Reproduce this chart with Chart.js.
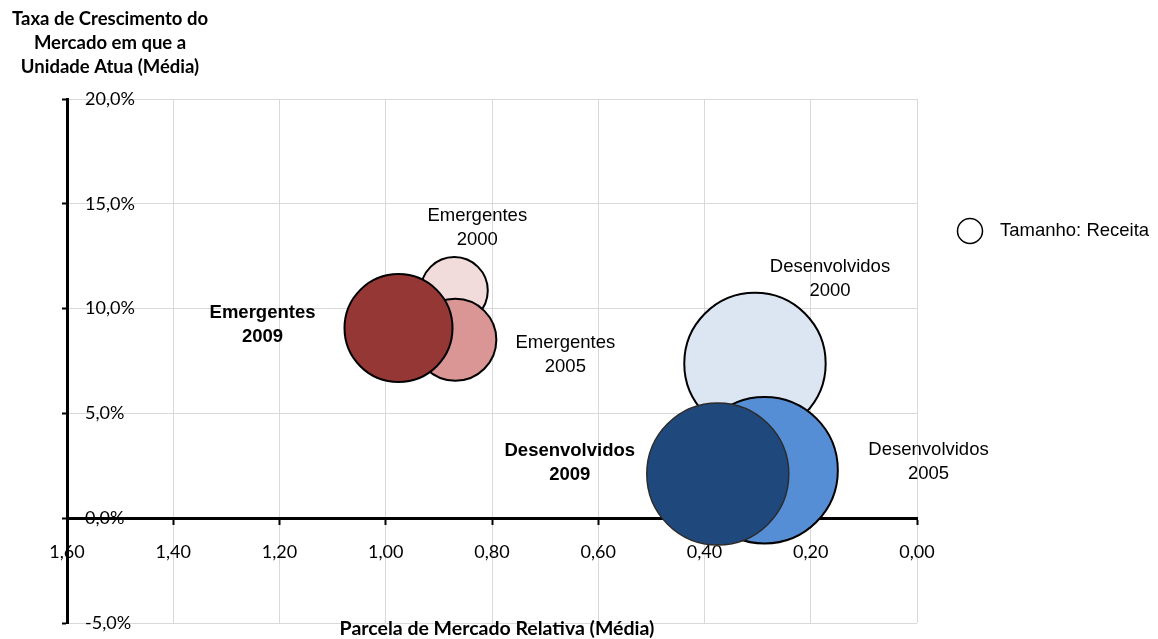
<!DOCTYPE html>
<html>
<head>
<meta charset="utf-8">
<script src="https://cdn.jsdelivr.net/npm/chart.js@4.4.1/dist/chart.umd.min.js"></script>
<style>
  html, body { margin: 0; padding: 0; background: #ffffff; }
  canvas { display: block; }
</style>
</head>
<body>
<canvas id="chart" width="1158" height="639"></canvas>
<script>
// ---- Data ----
const years = ['2000', '2005', '2009'];
const groups = ['Emergentes', 'Desenvolvidos'];

// Relative market share (x), market growth in % (y), bubble size (revenue)
const emergentesShare = [0.871, 0.869, 0.976];
const emergentesGrowth = [10.86, 8.51, 9.07];
const emergentesRevenue = [33.5, 41, 54];

const desenvolvidosShare = [0.305, 0.287, 0.375];
const desenvolvidosGrowth = [7.38, 2.29, 2.11];
const desenvolvidosRevenue = [70.7, 73.3, 71];

const xTickValues = [1.6, 1.4, 1.2, 1.0, 0.8, 0.6, 0.4, 0.2, 0.0];
const yTickValues = [-5, 0, 5, 10, 15, 20];

const yTitleLines = ['Taxa de Crescimento do', 'Mercado em que a', 'Unidade Atua (Média)'];
const xTitle = 'Parcela de Mercado Relativa (Média)';
const legendText = 'Tamanho: Receita';

// ---- Styling ----
const ARIAL = '"Liberation Sans", Arial, sans-serif';
const CALIBRI = 'Lato, "Open Sans", sans-serif';
const emergentesColors = ['#F2DCDB', '#DA9694', '#953735'];
const desenvolvidosColors = ['#DCE6F2', '#558ED5', '#1F497D'];

function points(xs, ys, rs) {
  return xs.map((x, i) => ({ x: x, y: ys[i], r: rs[i] }));
}

// Where each bubble's caption sits, relative to the bubble centre
const captionOffsets = {
  Emergentes: [[23, -63], [110, 15], [-136, -3]],
  Desenvolvidos: [[75, -85], [164, -8], [-148, -11]]
};

const captionPlugin = {
  id: 'captions',
  afterDatasetsDraw(chart) {
    const ctx = chart.ctx;
    ctx.save();
    ctx.fillStyle = '#000';
    ctx.textAlign = 'center';
    ctx.textBaseline = 'middle';
    chart.data.datasets.forEach((ds, di) => {
      const meta = chart.getDatasetMeta(di);
      meta.data.forEach((el, i) => {
        const off = captionOffsets[ds.label][i];
        const bold = i === years.length - 1;
        ctx.font = (bold ? 'bold ' : '') + '18.5px ' + ARIAL;
        const cx = el.x + off[0];
        const cy = el.y + off[1];
        ctx.fillText(ds.label, cx, cy - 12);
        ctx.fillText(years[i], cx, cy + 12);
      });
    });
    ctx.restore();
  }
};

const decorPlugin = {
  id: 'decor',
  afterDraw(chart) {
    const ctx = chart.ctx;
    const area = chart.chartArea;
    ctx.save();
    ctx.fillStyle = '#000';
    ctx.textAlign = 'center';
    ctx.textBaseline = 'middle';
    // y axis title, horizontal above the axis
    ctx.font = 'bold 18.5px ' + CALIBRI;
    yTitleLines.forEach((line, i) => {
      ctx.fillText(line, area.left + 43, 19 + i * 24);
    });
    // x axis title under the plot
    ctx.font = 'bold 19.5px ' + CALIBRI;
    ctx.fillText(xTitle, 497, area.bottom + 6);

    // size legend
    const lx = area.right + 53, ly = 231;
    ctx.beginPath();
    ctx.arc(lx, ly, 12.5, 0, Math.PI * 2);
    ctx.fillStyle = '#fff';
    ctx.fill();
    ctx.lineWidth = 1.5;
    ctx.strokeStyle = '#000';
    ctx.stroke();
    ctx.fillStyle = '#000';
    ctx.textAlign = 'left';
    ctx.font = '18.5px ' + ARIAL;
    ctx.fillText(legendText, lx + 30, ly);
    ctx.restore();
  }
};

const fmtComma = (v, d) => v.toFixed(d).replace('.', ',');

new Chart(document.getElementById('chart'), {
  type: 'bubble',
  data: {
    datasets: [
      {
        label: groups[0],
        data: points(emergentesShare, emergentesGrowth, emergentesRevenue),
        backgroundColor: emergentesColors,
        borderColor: ['#000', '#000', '#000'],
        borderWidth: [2, 2, 2]
      },
      {
        label: groups[1],
        data: points(desenvolvidosShare, desenvolvidosGrowth, desenvolvidosRevenue),
        backgroundColor: desenvolvidosColors,
        borderColor: ['#000', '#000', '#2b2b2b'],
        borderWidth: [2, 2, 1.5]
      }
    ]
  },
  options: {
    responsive: false,
    animation: false,
    devicePixelRatio: 1,
    layout: { autoPadding: false, padding: { left: 62, top: 99, right: 241, bottom: 16 } },
    plugins: {
      legend: { display: false },
      tooltip: { enabled: false }
    },
    elements: { point: { hoverRadius: 0 } },
    scales: {
      x: {
        type: 'linear',
        reverse: true,
        min: 0,
        max: 1.6,
        position: { y: 0 },
        border: { color: '#000', width: 3 },
        grid: { color: '#d9d9d9', lineWidth: 1, tickLength: 5, tickColor: '#000', tickWidth: 2 },
        afterBuildTicks: (scale) => { scale.ticks = xTickValues.map(v => ({ value: v })); },
        afterFit: (scale) => { scale.height = 0; },
        ticks: {
          color: '#000',
          font: { family: CALIBRI, size: 18 },
          padding: 18,
          maxRotation: 0,
          callback: (v) => fmtComma(v, 2)
        }
      },
      y: {
        type: 'linear',
        min: -5,
        max: 20,
        position: 'left',
        border: { color: '#000', width: 3 },
        grid: { color: '#d9d9d9', lineWidth: 1, tickLength: 5, tickColor: '#000', tickWidth: 2 },
        afterBuildTicks: (scale) => { scale.ticks = yTickValues.map(v => ({ value: v })); },
        afterFit: (scale) => {
          scale.width = 5;
          scale.paddingTop = 0;
          scale.paddingBottom = 0;
        },
        ticks: {
          mirror: true,
          padding: 18,
          color: '#000',
          font: { family: CALIBRI, size: 18 },
          callback: (v) => fmtComma(v, 1) + '%'
        }
      }
    }
  },
  plugins: [captionPlugin, decorPlugin]
});
</script>
</body>
</html>
